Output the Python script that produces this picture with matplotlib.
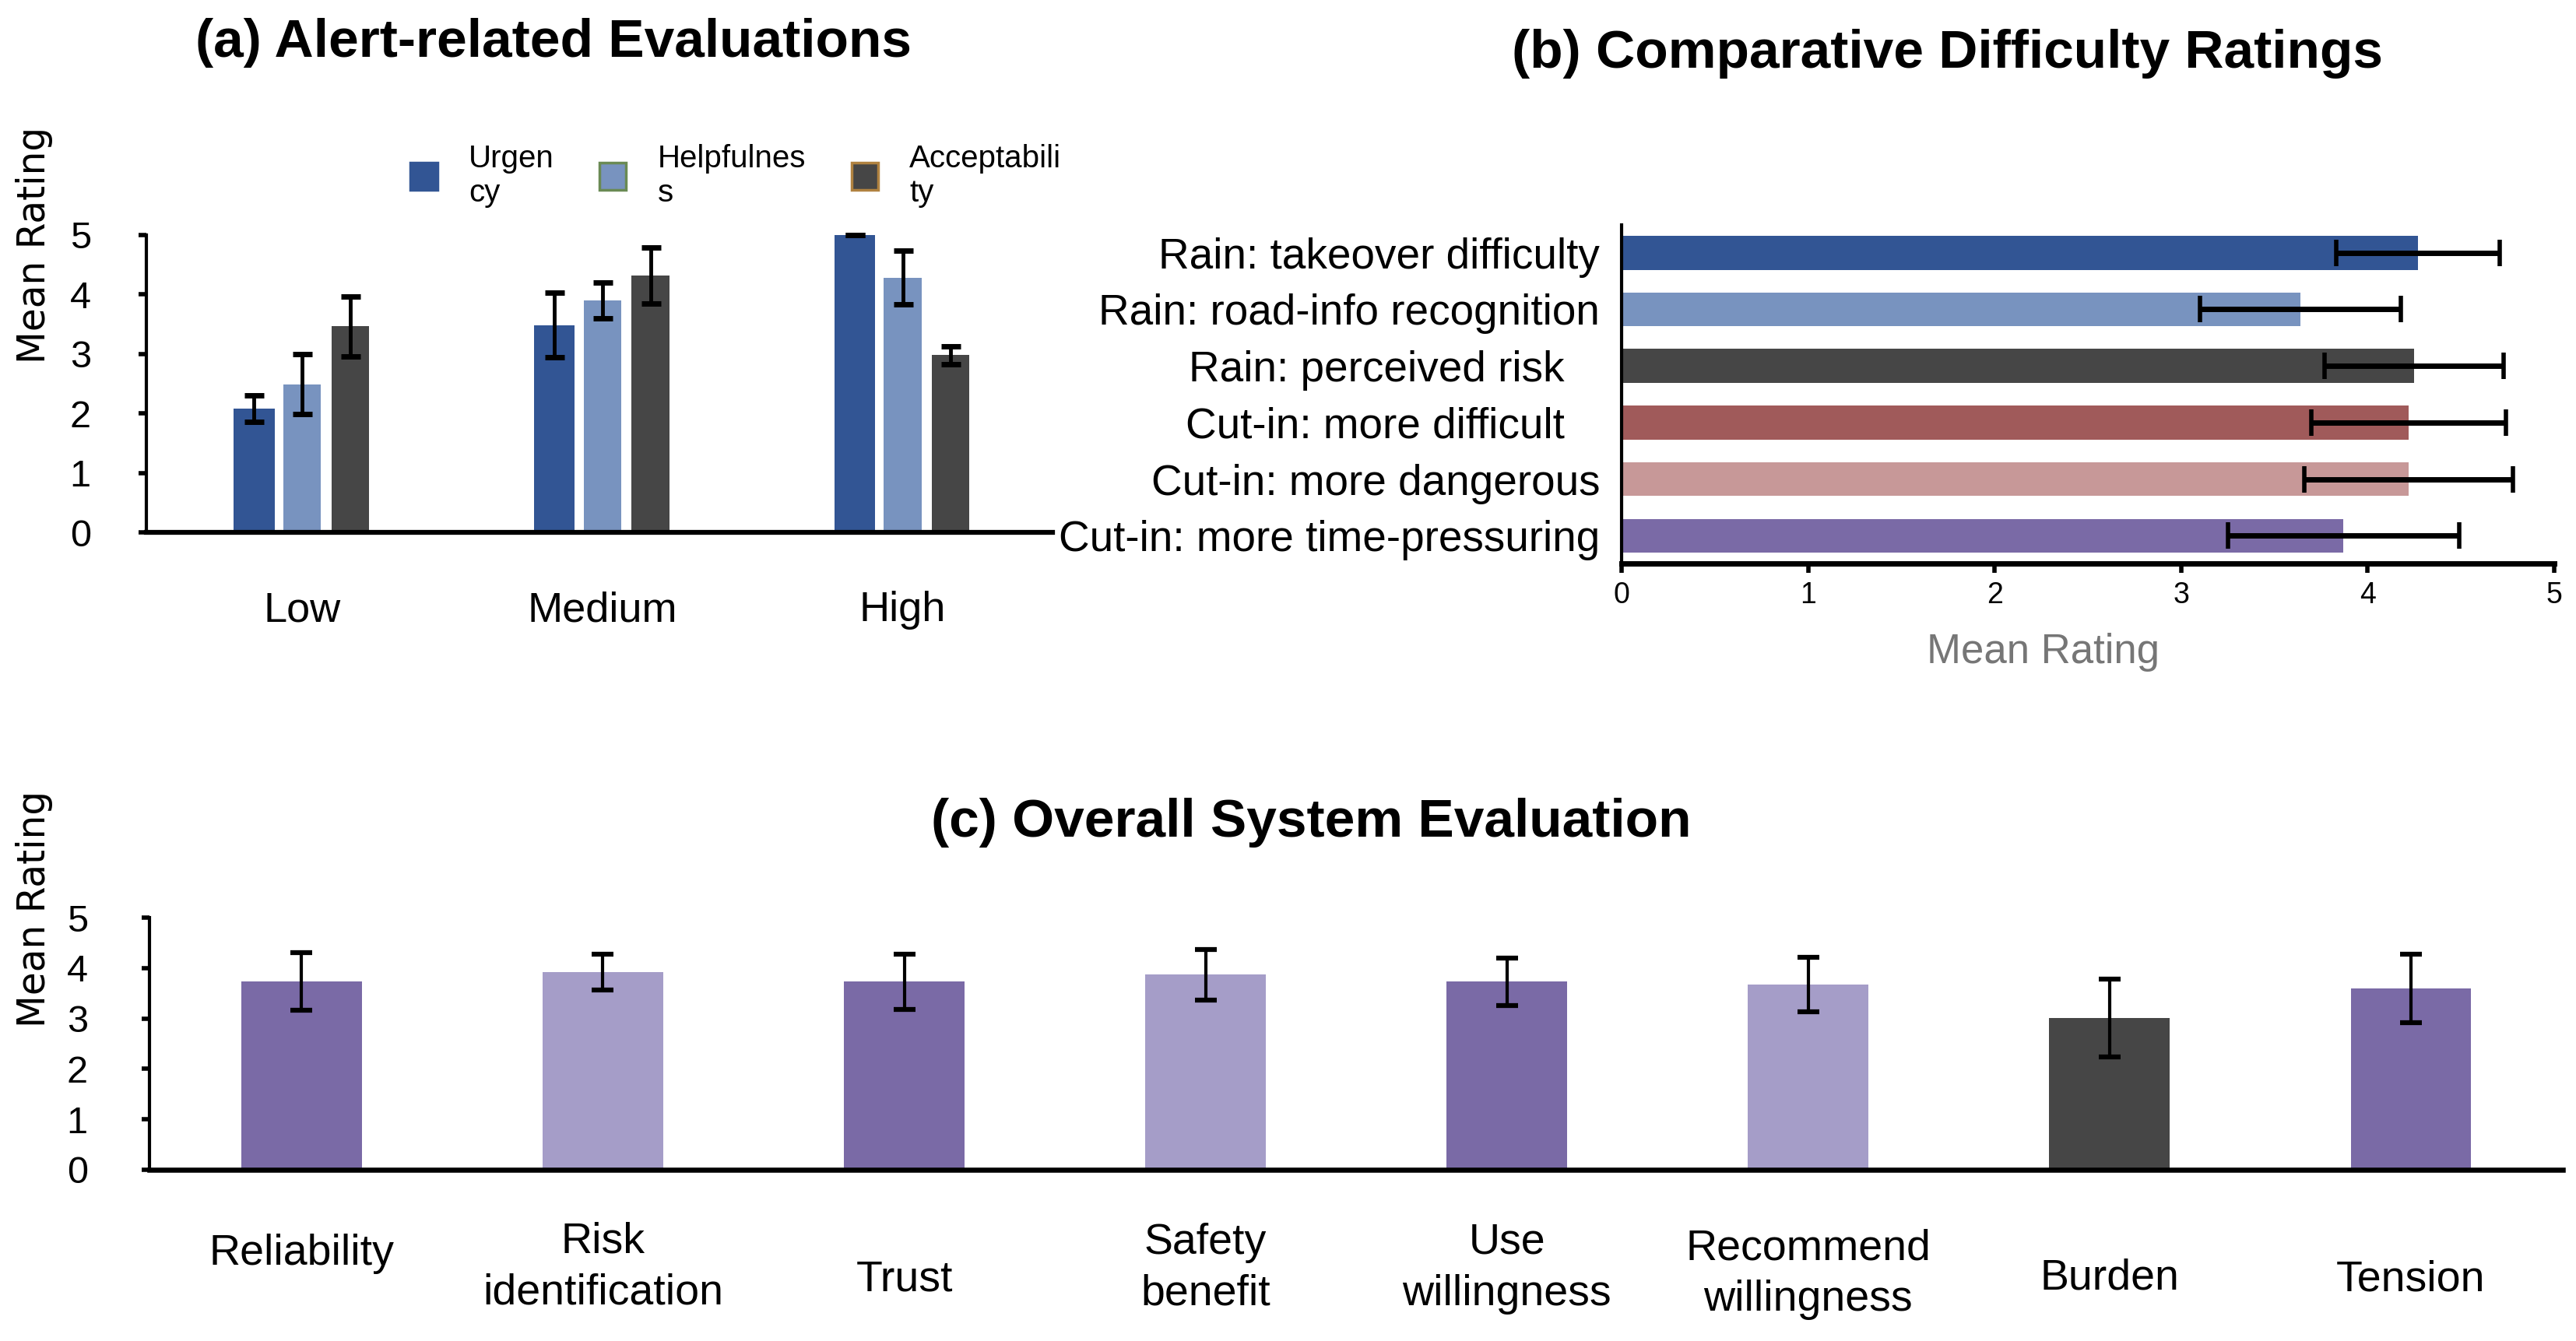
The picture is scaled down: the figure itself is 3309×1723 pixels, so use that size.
import matplotlib
matplotlib.use("Agg")
import matplotlib.pyplot as plt
from matplotlib.patches import Patch
from matplotlib.transforms import blended_transform_factory
import numpy as np

plt.rcParams["font.family"] = ["Liberation Sans", "DejaVu Sans"]

# (a) alert-related evaluations
levels = ["Low", "Medium", "High"]
alert_series = ["Urgency", "Helpfulness", "Acceptability"]
alert_legend = ["Urgen\ncy", "Helpfulnes\ns", "Acceptabili\nty"]
alert_means = [[2.08, 3.48, 5.00],
               [2.49, 3.90, 4.28],
               [3.46, 4.32, 2.98]]
alert_errs = [[0.22, 0.54, 0.00],
              [0.50, 0.30, 0.45],
              [0.50, 0.47, 0.15]]

# (b) comparative difficulty ratings
diff_labels = ["Rain: takeover difficulty", "Rain: road-info recognition",
               "Rain: perceived risk   ", "Cut-in: more difficult   ",
               "Cut-in: more dangerous", "Cut-in: more time-pressuring"]
diff_means = [4.27, 3.64, 4.25, 4.22, 4.22, 3.87]
diff_errs = [0.44, 0.54, 0.48, 0.52, 0.56, 0.62]

# (c) overall system evaluation
sys_labels = ["Reliability", "Risk\nidentification", "Trust", "Safety\nbenefit",
              "Use\nwillingness", "Recommend\nwillingness", "Burden", "Tension"]
sys_means = [3.73, 3.92, 3.73, 3.87, 3.73, 3.67, 3.01, 3.59]
sys_errs = [0.57, 0.35, 0.55, 0.50, 0.47, 0.54, 0.77, 0.68]

# colours
alert_colors = ["#325594", "#7893BF", "#464646"]
alert_edges = ["#325594", "#6A8A54", "#B08240"]
diff_colors = ["#325594", "#7893BF", "#464646", "#A05A5A", "#C79898", "#7A6AA6"]
sys_colors = ["#7A6AA6", "#A59DC8", "#7A6AA6", "#A59DC8", "#7A6AA6", "#A59DC8", "#464646", "#7A6AA6"]
# vertical placement of the (c) category labels, in axes fraction
sys_label_y = [-0.333, -0.386, -0.438, -0.392, -0.392, -0.415, -0.431, -0.438]

fig = plt.figure(figsize=(33.09, 17.23), dpi=100)

# ---------- panel (a)
ax_a = fig.add_axes([0.0567, 0.603, 0.352, 0.222])
x = np.arange(len(levels))
offsets = [-0.16, 0.0, 0.16]
widths = [0.135, 0.125, 0.125]
for i in range(3):
    ax_a.bar(x + offsets[i], alert_means[i], width=widths[i], color=alert_colors[i], zorder=2)
    ax_a.errorbar(x + offsets[i], alert_means[i], yerr=alert_errs[i], fmt="none",
                  ecolor="black", elinewidth=3.5, capsize=9, capthick=5,
                  zorder=3, clip_on=False)
ax_a.set_xlim(-0.52, 2.5)
ax_a.set_ylim(0, 5)
ax_a.set_yticks(range(6))
ax_a.set_xticks(x)
ax_a.set_xticklabels(levels)
ax_a.tick_params(axis="y", direction="out", length=7, width=4, pad=44, labelsize=35)
ax_a.tick_params(axis="x", length=0, pad=54, labelsize=39)
for s in ["top", "right"]:
    ax_a.spines[s].set_visible(False)
ax_a.spines["left"].set_linewidth(3)
ax_a.spines["bottom"].set_linewidth(4.5)

handles = [Patch(facecolor=alert_colors[i], edgecolor=alert_edges[i], linewidth=2.5)
           for i in range(3)]
fig.legend(handles, alert_legend, loc="center left", bbox_to_anchor=(0.1594, 0.869),
           ncol=3, frameon=False, fontsize=29, handlelength=0.85, handleheight=0.95,
           handletextpad=1.0, columnspacing=1.45, borderpad=0, borderaxespad=0)

fig.text(0.215, 0.968, "(a) Alert-related Evaluations", ha="center", va="center",
         fontsize=50, fontweight="bold")
fig.text(0.0134, 0.817, "Mean Rating", rotation=90, ha="center", va="center",
         fontsize=35, family="DejaVu Sans")

# ---------- panel (b)
ax_b = fig.add_axes([0.6295, 0.580, 0.362, 0.252])
y = np.arange(len(diff_labels))
ax_b.barh(y, diff_means, height=0.6, color=diff_colors, zorder=2)
ax_b.errorbar(diff_means, y, xerr=diff_errs, fmt="none", ecolor="black",
              elinewidth=5, capsize=12, capthick=4, zorder=3)
ax_b.set_xlim(0, 5)
ax_b.set_ylim(5.485, -0.485)
ax_b.set_xticks(range(6))
ax_b.set_yticks(y)
ax_b.set_yticklabels(diff_labels)
ax_b.tick_params(axis="y", length=0, pad=20, labelsize=39.5)
ax_b.tick_params(axis="x", direction="out", length=8.5, width=4, pad=8, labelsize=27)
for s in ["top", "right"]:
    ax_b.spines[s].set_visible(False)
ax_b.spines["left"].set_linewidth(3)
ax_b.spines["bottom"].set_linewidth(5)

fig.text(0.756, 0.960, "(b) Comparative Difficulty Ratings", ha="center", va="center",
         fontsize=50, fontweight="bold")
fig.text(0.793, 0.5135, "Mean Rating", ha="center", va="center", fontsize=38,
         color="#767676")

# ---------- panel (c)
ax_c = fig.add_axes([0.058, 0.1277, 0.937, 0.188])
xc = np.arange(len(sys_labels))
ax_c.bar(xc, sys_means, width=0.4, color=sys_colors, zorder=2)
ax_c.errorbar(xc, sys_means, yerr=sys_errs, fmt="none", ecolor="black",
              elinewidth=3, capsize=10, capthick=4.5, zorder=3)
ax_c.set_xlim(-0.505, 7.505)
ax_c.set_ylim(0, 5)
ax_c.set_yticks(range(6))
ax_c.set_xticks([])
ax_c.tick_params(axis="y", direction="out", length=7, width=4, pad=50, labelsize=35)
for s in ["top", "right"]:
    ax_c.spines[s].set_visible(False)
ax_c.spines["left"].set_linewidth(3)
ax_c.spines["bottom"].set_linewidth(4.7)
trans = blended_transform_factory(ax_c.transData, ax_c.transAxes)
for i, lab in enumerate(sys_labels):
    ax_c.text(xc[i], sys_label_y[i], lab, transform=trans, ha="center", va="center",
              fontsize=40, linespacing=1.35)

fig.text(0.509, 0.3865, "(c) Overall System Evaluation", ha="center", va="center",
         fontsize=50, fontweight="bold")
fig.text(0.0134, 0.322, "Mean Rating", rotation=90, ha="center", va="center",
         fontsize=35, family="DejaVu Sans")

fig.savefig("out.png", dpi=100)
